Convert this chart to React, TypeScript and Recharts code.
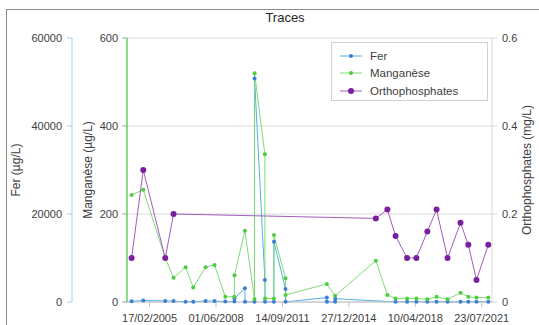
import { LineChart, Line, XAxis, YAxis, CartesianGrid, Legend } from 'recharts';

// sampling dates (dd/mm/yyyy) – some dates carry two samples
const sampleDates = [
  '29/03/2004', '26/10/2004', '27/11/2005', '26/04/2006', '29/11/2006', '17/04/2007',
  '25/11/2007', '05/05/2008', '15/11/2008', '29/04/2009', '01/05/2009', '05/11/2009',
  '07/11/2009', '27/04/2010', '29/04/2010', '01/11/2010', '03/11/2010', '12/04/2011',
  '14/04/2011', '08/11/2011', '10/11/2011', '24/11/2013', '26/11/2013', '23/04/2014',
  '25/04/2014', '27/04/2016', '22/11/2016', '19/04/2017', '13/11/2017', '30/04/2018',
  '14/11/2018', '29/04/2019', '14/11/2019', '05/07/2020', '23/11/2020', '20/04/2021',
  '19/11/2021',
];

// Fer (µg/L)
const fer = [
  150, 350, 250, 200, 50, 50,
  250, 200, 100, 100, 840, 3100,
  30, 30, 50800, 5000, 30, 30,
  13700, 2950, 30, 1000, 30, 30,
  750, null, null, 30, 30, 30,
  30, 30, 30, 30, 30, 30,
  30,
];

// Manganèse (µg/L)
const manganese = [
  243, 255, 100, 55, 79, 33,
  79, 84, 12, 12, 61, 162,
  null, 7, 520, 336, 8, 8,
  152, 54, 16, 41, null, 14,
  null, 94, 16, 8, 8, 8,
  6, 12, 6, 21, 12, 10,
  10,
];

// Orthophosphates (mg/L)
const orthophosphates = [
  0.1, 0.3, 0.1, 0.2, null, null,
  null, null, null, null, null, null,
  null, null, null, null, null, null,
  null, null, null, null, null, null,
  null, 0.19, 0.21, 0.15, 0.1, 0.1,
  0.16, 0.21, 0.1, 0.18, 0.13, 0.05,
  0.13,
];

const xTickLabels = ['17/02/2005', '01/06/2008', '14/09/2011', '27/12/2014', '10/04/2018', '23/07/2021'];
const ferTicks = [0, 20000, 40000, 60000];
const mnTicks = [0, 200, 400, 600];
const orthoTicks = [0, 0.2, 0.4, 0.6];

const DAY = 86400000;
const toTime = (s: string) => {
  const [d, m, y] = s.split('/').map(Number);
  return Date.UTC(y, m - 1, d);
};
const pad = (n: number) => String(n).padStart(2, '0');
const fmtDate = (t: number) => {
  const d = new Date(t);
  return `${pad(d.getUTCDate())}/${pad(d.getUTCMonth() + 1)}/${d.getUTCFullYear()}`;
};

const data = sampleDates.map((s, i) => ({
  t: toTime(s),
  fer: fer[i],
  mn: manganese[i],
  ortho: orthophosphates[i],
}));

const xTicks = xTickLabels.map(toTime);
const xDomain = [xTicks[0] - 408 * DAY, xTicks[0] + 6186 * DAY];

const FONT = '"Liberation Sans", Arial, sans-serif';
const TEXT = '#404040';

// axis ids: the inner left axis (Manganèse) must sort first
const MN_AXIS = 'axisA';
const FER_AXIS = 'axisB';
const ORTHO_AXIS = 'axisC';

const seriesStyle: Record<string, { line: string; dot: string; r: number }> = {
  fer: { line: '#56aee6', dot: '#3b7fd6', r: 2 },
  mn: { line: '#7ddc74', dot: '#4ccd3c', r: 2 },
  ortho: { line: '#a25cbc', dot: '#7a1fa0', r: 3 },
};

function LegendBox(props: any) {
  const items = props.payload || [];
  return (
    <div
      style={{
        width: 157,
        height: 59,
        border: '1px solid #d0d0d0',
        background: '#fff',
        boxSizing: 'border-box',
        paddingTop: 4,
        fontFamily: FONT,
        fontSize: 11.5,
        color: TEXT,
      }}
    >
      {items.map((it: any) => {
        const st = seriesStyle[it.dataKey];
        return (
          <div key={it.value} style={{ display: 'flex', alignItems: 'center', height: 17.5 }}>
            <svg width={32} height={10} style={{ marginLeft: 6 }}>
              <line x1={2} y1={5} x2={24} y2={5} stroke={st.line} strokeWidth={1} />
              <circle cx={13} cy={5} r={st.r} fill={st.dot} />
            </svg>
            <span>{it.value}</span>
          </div>
        );
      })}
    </div>
  );
}

const vTitle = (text: string, cx: number, cy: number) => (
  <div
    style={{
      position: 'absolute',
      left: cx,
      top: cy,
      transform: 'translate(-50%, -50%) rotate(-90deg)',
      whiteSpace: 'nowrap',
      fontSize: 12,
      color: TEXT,
      fontFamily: FONT,
    }}
  >
    {text}
  </div>
);

export default function App() {
  const tick = { fontSize: 11, fill: TEXT, fontFamily: FONT };
  return (
    <div
      style={{
        position: 'fixed',
        left: 0,
        top: 0,
        width: 539,
        height: 325,
        background: '#fff',
        overflow: 'hidden',
      }}
    >
      <div
        style={{
          position: 'absolute',
          left: 6,
          top: 9,
          width: 600,
          height: 400,
          borderTop: '1px solid #8c8c8c',
          borderLeft: '1px solid #8c8c8c',
        }}
      />
      <div
        style={{
          position: 'absolute',
          left: 235,
          top: 10,
          width: 100,
          textAlign: 'center',
          fontSize: 13,
          lineHeight: '15px',
          color: '#262626',
          fontFamily: FONT,
        }}
      >
        Traces
      </div>
      <div style={{ position: 'absolute', left: 0, top: 0 }}>
        <LineChart width={539} height={325} data={data} margin={{ top: 38, right: 0, bottom: 0, left: 6 }}>
          <CartesianGrid yAxisId={MN_AXIS} vertical={false} stroke="#d9d9d9" />
          <XAxis
            type="number"
            dataKey="t"
            domain={xDomain}
            ticks={xTicks}
            interval={0}
            tickFormatter={fmtDate}
            height={23}
            tick={tick}
            tickSize={5}
            tickMargin={7}
            stroke="#bfbfbf"
            allowDataOverflow
          />
          <YAxis
            yAxisId={MN_AXIS}
            orientation="left"
            width={55}
            domain={[0, 600]}
            ticks={mnTicks}
            interval={0}
            tick={tick}
            tickSize={5}
            tickMargin={4}
            axisLine={{ stroke: '#5cd65c', strokeWidth: 1.5 }}
            tickLine={{ stroke: '#a0a0a0' }}
          />
          <YAxis
            yAxisId={FER_AXIS}
            orientation="left"
            width={66}
            domain={[0, 60000]}
            ticks={ferTicks}
            interval={0}
            tick={tick}
            tickSize={5}
            tickMargin={5}
            axisLine={{ stroke: '#a9cdea' }}
            tickLine={{ stroke: '#a9cdea' }}
          />
          <YAxis
            yAxisId={ORTHO_AXIS}
            orientation="right"
            width={47}
            domain={[0, 0.6]}
            ticks={orthoTicks}
            interval={0}
            tick={tick}
            tickSize={5}
            tickMargin={5}
            axisLine={{ stroke: '#d9d9d9' }}
            tickLine={{ stroke: '#d9d9d9' }}
          />
          <Legend
            layout="vertical"
            align="center"
            verticalAlign="middle"
            wrapperStyle={{ position: 'absolute', left: 331, top: 42, width: 157, height: 59 }}
            content={<LegendBox />}
          />
          <Line
            yAxisId={FER_AXIS}
            dataKey="fer"
            name="Fer"
            type="linear"
            stroke={seriesStyle.fer.line}
            strokeWidth={1}
            dot={{ r: seriesStyle.fer.r, fill: seriesStyle.fer.dot, stroke: 'none' }}
            connectNulls
            isAnimationActive={false}
          />
          <Line
            yAxisId={MN_AXIS}
            dataKey="mn"
            name="Manganèse"
            type="linear"
            stroke={seriesStyle.mn.line}
            strokeWidth={1}
            dot={{ r: seriesStyle.mn.r, fill: seriesStyle.mn.dot, stroke: 'none' }}
            connectNulls
            isAnimationActive={false}
          />
          <Line
            yAxisId={ORTHO_AXIS}
            dataKey="ortho"
            name="Orthophosphates"
            type="linear"
            stroke={seriesStyle.ortho.line}
            strokeWidth={1}
            dot={{ r: seriesStyle.ortho.r, fill: seriesStyle.ortho.dot, stroke: 'none' }}
            connectNulls
            isAnimationActive={false}
          />
        </LineChart>
      </div>
      {vTitle('Fer (µg/L)', 16, 170)}
      {vTitle('Manganèse (µg/L)', 88, 170)}
      {vTitle('Orthophosphates (mg/L)', 527, 170)}
    </div>
  );
}
